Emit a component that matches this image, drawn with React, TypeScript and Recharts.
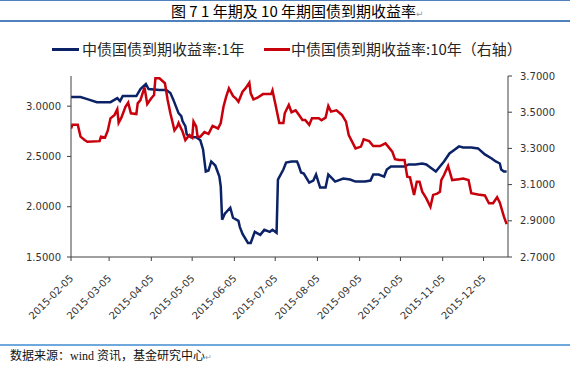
import { LineChart, Line, XAxis, YAxis } from "recharts";

// 中债国债到期收益率:1年 (左轴)
const oneYearDates = [
  "2015-02-05", "2015-02-12", "2015-02-17", "2015-02-24", "2015-03-06", "2015-03-11",
  "2015-03-13", "2015-03-15", "2015-03-25", "2015-03-28", "2015-04-01", "2015-04-03",
  "2015-04-11", "2015-04-16", "2015-04-19", "2015-04-21", "2015-04-25", "2015-04-27",
  "2015-04-28", "2015-04-30", "2015-05-01", "2015-05-04", "2015-05-08", "2015-05-11",
  "2015-05-13", "2015-05-15", "2015-05-17", "2015-05-19", "2015-05-22", "2015-05-25",
  "2015-05-26", "2015-05-27", "2015-05-29", "2015-06-02", "2015-06-04", "2015-06-08",
  "2015-06-09", "2015-06-11", "2015-06-15", "2015-06-17", "2015-06-20", "2015-06-24",
  "2015-06-27", "2015-07-01", "2015-07-03", "2015-07-06", "2015-07-07", "2015-07-11",
  "2015-07-13", "2015-07-17", "2015-07-21", "2015-07-22", "2015-07-24", "2015-07-26",
  "2015-07-30", "2015-08-02", "2015-08-04", "2015-08-07", "2015-08-11", "2015-08-13",
  "2015-08-16", "2015-08-18", "2015-08-24", "2015-08-29", "2015-09-02", "2015-09-09",
  "2015-09-13", "2015-09-15", "2015-09-19", "2015-09-23", "2015-09-25", "2015-09-28",
  "2015-10-01", "2015-10-08", "2015-10-11", "2015-10-16", "2015-10-21", "2015-10-24",
  "2015-10-26", "2015-10-29", "2015-10-31", "2015-11-03", "2015-11-06", "2015-11-10",
  "2015-11-13", "2015-11-17", "2015-11-20", "2015-11-26", "2015-12-01", "2015-12-06",
  "2015-12-11", "2015-12-14", "2015-12-17", "2015-12-18", "2015-12-20", "2015-12-22",
];
const oneYearYield = [
  3.09, 3.09, 3.07, 3.04, 3.04, 3.08,
  3.05, 3.10, 3.10, 3.17, 3.22, 3.17,
  3.16, 3.16, 3.13, 3.07, 2.93, 2.90,
  2.85, 2.80, 2.72, 2.69, 2.69, 2.66,
  2.57, 2.35, 2.36, 2.45, 2.41, 2.30,
  2.20, 1.87, 1.93, 1.99, 1.89, 1.86,
  1.80, 1.73, 1.64, 1.64, 1.75, 1.72,
  1.77, 1.75, 1.77, 1.74, 2.27, 2.37,
  2.44, 2.45, 2.45, 2.42, 2.34, 2.33,
  2.24, 2.26, 2.32, 2.19, 2.19, 2.32,
  2.28, 2.25, 2.28, 2.27, 2.25, 2.25,
  2.26, 2.32, 2.32, 2.30, 2.37, 2.40,
  2.40, 2.40, 2.42, 2.42, 2.43, 2.42,
  2.40, 2.37, 2.35, 2.40, 2.45, 2.53,
  2.56, 2.60, 2.59, 2.59, 2.58, 2.52,
  2.48, 2.45, 2.43, 2.37, 2.35, 2.35,
];

// 中债国债到期收益率:10年 (右轴)
const tenYearDates = [
  "2015-02-05", "2015-02-06", "2015-02-10", "2015-02-12", "2015-02-15", "2015-02-17",
  "2015-02-26", "2015-02-27", "2015-03-02", "2015-03-04", "2015-03-06", "2015-03-09",
  "2015-03-11", "2015-03-12", "2015-03-14", "2015-03-17", "2015-03-19", "2015-03-21",
  "2015-03-25", "2015-03-26", "2015-03-28", "2015-03-31", "2015-04-02", "2015-04-05",
  "2015-04-07", "2015-04-08", "2015-04-11", "2015-04-15", "2015-04-17", "2015-04-19",
  "2015-04-22", "2015-04-24", "2015-04-25", "2015-04-28", "2015-04-30", "2015-05-03",
  "2015-05-05", "2015-05-06", "2015-05-08", "2015-05-09", "2015-05-11", "2015-05-14",
  "2015-05-17", "2015-05-20", "2015-05-24", "2015-05-26", "2015-05-28", "2015-05-30",
  "2015-06-01", "2015-06-04", "2015-06-06", "2015-06-08", "2015-06-11", "2015-06-13",
  "2015-06-16", "2015-06-17", "2015-06-19", "2015-06-22", "2015-06-26", "2015-07-02",
  "2015-07-03", "2015-07-05", "2015-07-08", "2015-07-11", "2015-07-12", "2015-07-15",
  "2015-07-17", "2015-07-20", "2015-07-22", "2015-07-25", "2015-07-27", "2015-07-30",
  "2015-08-01", "2015-08-06", "2015-08-08", "2015-08-11", "2015-08-13", "2015-08-15",
  "2015-08-19", "2015-08-23", "2015-08-26", "2015-08-28", "2015-09-02", "2015-09-06",
  "2015-09-08", "2015-09-12", "2015-09-15", "2015-09-20", "2015-09-24", "2015-09-26",
  "2015-09-29", "2015-10-01", "2015-10-04", "2015-10-08", "2015-10-10", "2015-10-12",
  "2015-10-15", "2015-10-17", "2015-10-19", "2015-10-21", "2015-10-24", "2015-10-27",
  "2015-10-29", "2015-11-01", "2015-11-03", "2015-11-04", "2015-11-06", "2015-11-09",
  "2015-11-12", "2015-11-17", "2015-11-20", "2015-11-24", "2015-11-26", "2015-12-01",
  "2015-12-06", "2015-12-09", "2015-12-12", "2015-12-15", "2015-12-17", "2015-12-20",
  "2015-12-22",
];
const tenYearYield = [
  3.41, 3.43, 3.43, 3.365, 3.346, 3.337,
  3.34, 3.365, 3.36, 3.398, 3.466, 3.485,
  3.516, 3.442, 3.47, 3.53, 3.553, 3.494,
  3.49, 3.549, 3.567, 3.637, 3.545, 3.577,
  3.595, 3.687, 3.687, 3.66, 3.567, 3.494,
  3.40, 3.42, 3.44, 3.392, 3.346, 3.374,
  3.36, 3.448, 3.42, 3.365, 3.365, 3.39,
  3.38, 3.424, 3.41, 3.44, 3.53, 3.586,
  3.632, 3.59, 3.577, 3.558, 3.613, 3.63,
  3.663, 3.604, 3.571, 3.58, 3.60, 3.60,
  3.62, 3.55, 3.44, 3.44, 3.494, 3.54,
  3.50, 3.51, 3.49, 3.457, 3.457, 3.43,
  3.466, 3.466, 3.455, 3.47, 3.534, 3.503,
  3.51, 3.485, 3.448, 3.374, 3.30, 3.31,
  3.35, 3.34, 3.313, 3.313, 3.328, 3.31,
  3.282, 3.24, 3.236, 3.236, 3.144, 3.14,
  3.043, 3.116, 3.116, 3.061, 3.024, 2.978,
  3.043, 3.05, 3.06, 3.125, 3.153, 3.203,
  3.125, 3.13, 3.133, 3.125, 3.052, 3.045,
  3.04, 2.997, 2.997, 3.03, 3.00, 2.923,
  2.882,
];

const tickDates = [
  "2015-02-05", "2015-03-05", "2015-04-05", "2015-05-05", "2015-06-05", "2015-07-05",
  "2015-08-05", "2015-09-05", "2015-10-05", "2015-11-05", "2015-12-05",
];
const axisStart = "2015-02-05";
const axisEnd = "2015-12-23";

const leftTicks = [1.5, 2.0, 2.5, 3.0];
const rightTicks = [2.7, 2.9, 3.1, 3.3, 3.5, 3.7];

type Row = { t: number; y1?: number; y10?: number };

function buildRows(): Row[] {
  const rows = new Map<number, Row>();
  oneYearDates.forEach((d, i) => {
    const t = Date.parse(d);
    const row = rows.get(t) ?? { t };
    row.y1 = oneYearYield[i];
    rows.set(t, row);
  });
  tenYearDates.forEach((d, i) => {
    const t = Date.parse(d);
    const row = rows.get(t) ?? { t };
    row.y10 = tenYearYield[i];
    rows.set(t, row);
  });
  return Array.from(rows.values()).sort((a, b) => a.t - b.t);
}

const data = buildRows();

const BLUE = "#0c2266";
const RED = "#c8000c";
const AXIS = "#404040";
const FRAME = "#4f81bd";
const CJK = '"Noto Sans CJK SC", "DejaVu Sans", sans-serif';
const NUM_FONT = '"DejaVu Sans", sans-serif';
const tickFont = { fontSize: 10, fill: "#333", fontFamily: NUM_FONT };

const fmtDate = (v: number) => new Date(v).toISOString().slice(0, 10);

// rotated date label, end of the text sits just right of / below the tick
function DateTick(props: any) {
  const { x, y, payload } = props;
  return (
    <g transform={`translate(${x + 3},${y + 16})`}>
      <text textAnchor="end" transform="rotate(-45)" fontSize={10} fill="#333" fontFamily={NUM_FONT}>
        {fmtDate(payload.value)}
      </text>
    </g>
  );
}

export default function App() {
  return (
    <div style={{ position: "relative", width: 570, height: 365, background: "#fff", overflow: "hidden" }}>
      <style>{"body{margin:0}"}</style>

      {/* title frame */}
      <div style={{ position: "absolute", left: 0, top: 0, width: 570, height: 1, background: FRAME }} />
      <div style={{ position: "absolute", left: 0, top: 20, width: 570, height: 1.5, background: FRAME }} />
      <div
        style={{
          position: "absolute",
          left: 171,
          top: 2,
          fontFamily: CJK,
          fontSize: 15,
          lineHeight: "18px",
          color: "#000",
          whiteSpace: "nowrap",
        }}
      >
        图 7 1 年期及 10 年期国债到期收益率
        <span style={{ fontSize: 9, color: "#999" }}>↵</span>
      </div>

      {/* legend */}
      <div style={{ position: "absolute", left: 52, top: 48, width: 27, height: 3, background: BLUE }} />
      <div style={{ position: "absolute", left: 82, top: 39, fontFamily: CJK, fontSize: 15, lineHeight: "20px", color: "#262626", whiteSpace: "nowrap" }}>
        中债国债到期收益率:1年
      </div>
      <div style={{ position: "absolute", left: 264, top: 48, width: 26, height: 3, background: RED }} />
      <div style={{ position: "absolute", left: 291, top: 39, fontFamily: CJK, fontSize: 15, lineHeight: "20px", color: "#262626", whiteSpace: "nowrap" }}>
        中债国债到期收益率:10年（右轴）
      </div>

      <div style={{ position: "absolute", left: 0, top: 0 }}>
        <LineChart width={570} height={345} data={data} margin={{ top: 76, right: 7, bottom: 28, left: 11 }}>
          <XAxis
            type="number"
            dataKey="t"
            domain={[Date.parse(axisStart), Date.parse(axisEnd)]}
            ticks={tickDates.map((d) => Date.parse(d))}
            interval={0}
            height={60}
            tickSize={4}
            tickMargin={2}
            tick={<DateTick />}
            axisLine={{ stroke: AXIS }}
            tickLine={{ stroke: AXIS }}
            allowDataOverflow
          />
          <YAxis
            yAxisId="left"
            orientation="left"
            width={60}
            domain={[1.5, 3.3]}
            ticks={leftTicks}
            tickFormatter={(v: number) => v.toFixed(4)}
            tickSize={4}
            tickMargin={6}
            tick={tickFont}
            axisLine={{ stroke: AXIS }}
            tickLine={{ stroke: AXIS }}
            allowDataOverflow
          />
          <YAxis
            yAxisId="right"
            orientation="right"
            width={55}
            domain={[2.7, 3.7]}
            ticks={rightTicks}
            tickFormatter={(v: number) => v.toFixed(4)}
            tickSize={4}
            tickMargin={8}
            tick={tickFont}
            axisLine={{ stroke: AXIS }}
            tickLine={{ stroke: AXIS }}
            allowDataOverflow
          />
          <Line
            yAxisId="left"
            type="linear"
            dataKey="y1"
            stroke={BLUE}
            strokeWidth={2.5}
            dot={false}
            connectNulls
            isAnimationActive={false}
          />
          <Line
            yAxisId="right"
            type="linear"
            dataKey="y10"
            stroke={RED}
            strokeWidth={2.5}
            dot={false}
            connectNulls
            isAnimationActive={false}
          />
        </LineChart>
      </div>

      {/* footer */}
      <div style={{ position: "absolute", left: 0, top: 344, width: 570, height: 2, background: "#6fa8dc" }} />
      <div
        style={{
          position: "absolute",
          left: 10,
          top: 349,
          fontFamily: '"Liberation Serif", "Noto Sans CJK SC", serif',
          fontSize: 12,
          lineHeight: "15px",
          color: "#111",
          whiteSpace: "nowrap",
        }}
      >
        数据来源：wind 资讯，基金研究中心
        <span style={{ fontSize: 8, color: "#999" }}>↵</span>
      </div>
    </div>
  );
}
